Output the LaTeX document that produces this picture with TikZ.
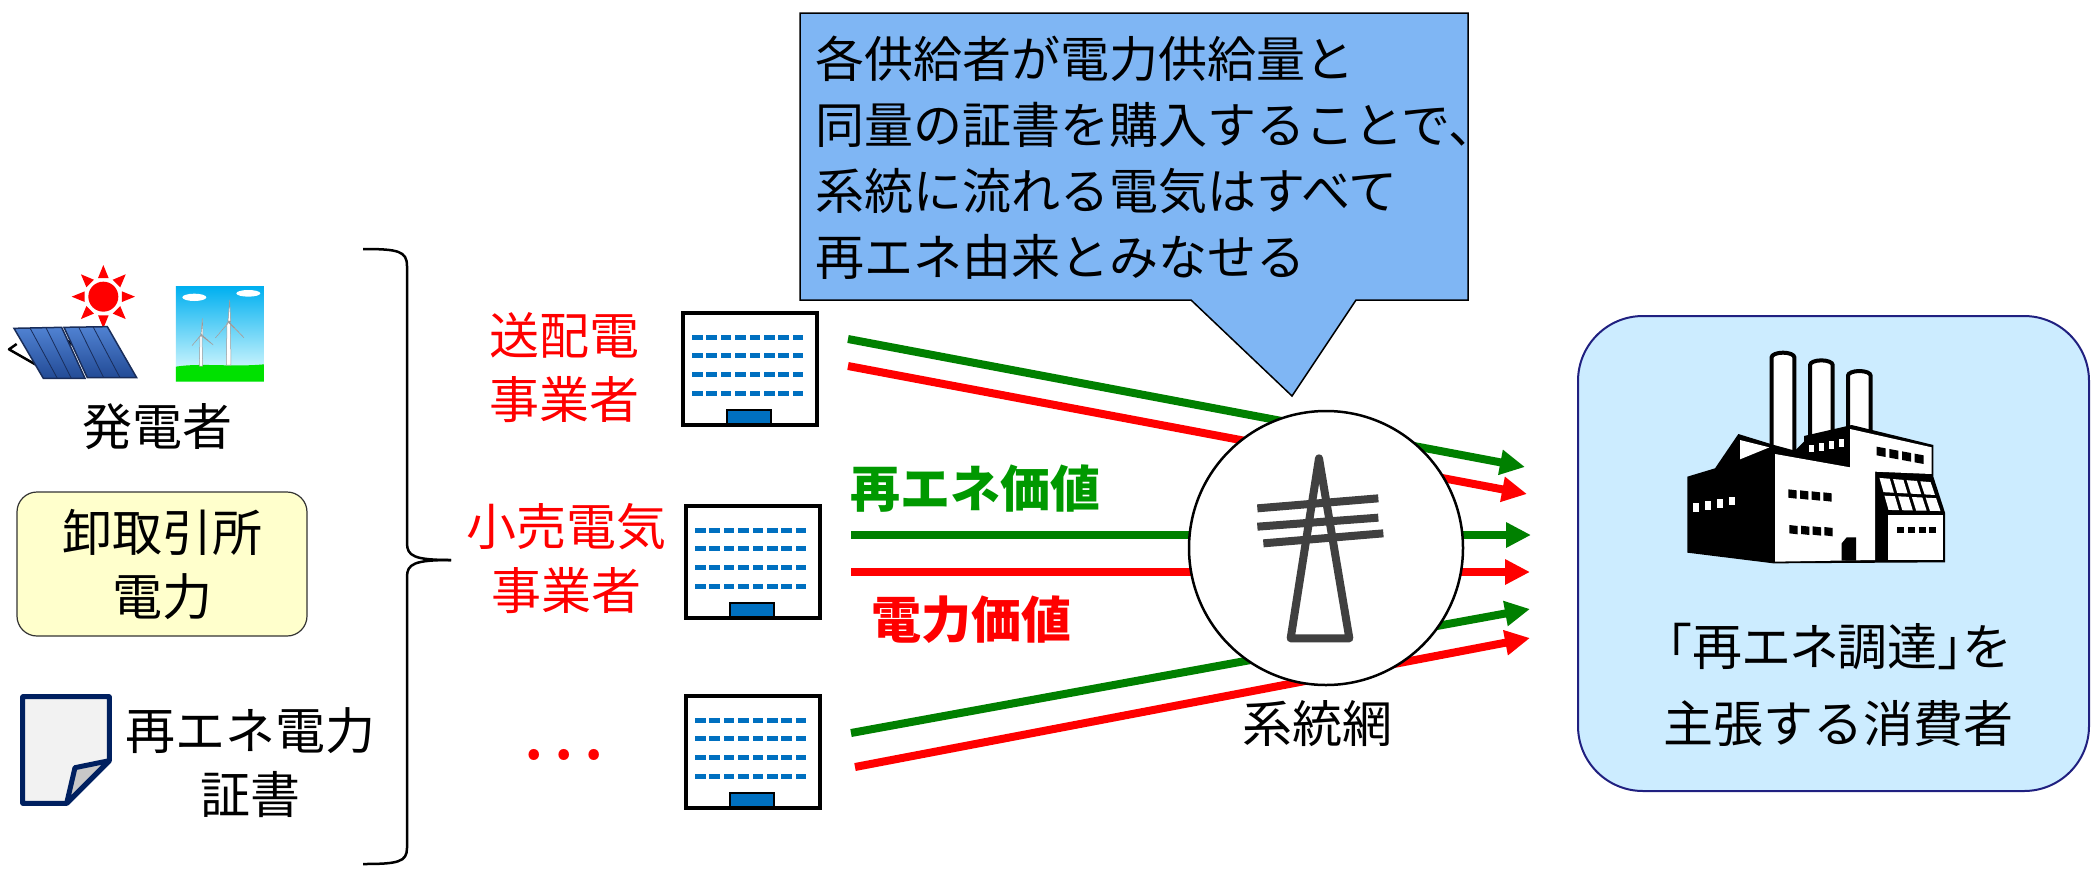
\documentclass[tikz,border=0pt]{standalone}
\usepackage{fontspec}
\setmainfont{Noto Sans CJK JP}
\newfontfamily\jpprop{Noto Sans CJK JP}[RawFeature=+palt]
\usetikzlibrary{arrows.meta,calc}

\definecolor{calloutBlue}{RGB}{127,182,244}
\definecolor{lineGreen}{RGB}{0,128,0}
\definecolor{lineRed}{RGB}{255,0,0}
\definecolor{textGreen}{RGB}{0,153,0}
\definecolor{winBlue}{RGB}{0,112,192}
\definecolor{boxYellow}{RGB}{255,255,204}
\definecolor{boxBlue}{RGB}{204,236,255}
\definecolor{boxBorder}{RGB}{32,32,128}
\definecolor{certNavy}{RGB}{0,32,96}
\definecolor{certFill}{RGB}{242,242,242}
\definecolor{foldGray}{RGB}{200,200,200}
\definecolor{towerGray}{RGB}{64,64,64}
\definecolor{panelTop}{RGB}{80,130,210}
\definecolor{panelBot}{RGB}{35,75,150}
\definecolor{panelEdge}{RGB}{25,45,90}
\definecolor{skyTop}{RGB}{0,176,240}
\definecolor{skyMid}{RGB}{190,240,255}
\definecolor{skyBot}{RGB}{235,255,255}
\definecolor{grass}{RGB}{0,225,0}

\tikzset{
  jp/.style={font=\fontsize{50pt}{64pt}\selectfont, inner sep=0pt, align=center},
  jpbold/.style={font=\fontsize{50pt}{64pt}\selectfont\bfseries, inner sep=0pt},
  bldg/.style={draw, line width=3.5pt, fill=white, minimum width=134pt,
    minimum height=112pt, inner sep=0pt, anchor=north west},
  flowG/.style={draw=lineGreen, line width=8pt, -{Triangle[length=25pt,width=24pt]}},
  flowR/.style={draw=lineRed, line width=8pt, -{Triangle[length=25pt,width=24pt]}},
  office/.pic={
    \foreach \r in {26,44,63,82}
      \foreach \c in {0,...,7}
        \fill[winBlue] ({11+\c*14.4},{\r-2.5}) rectangle ++(10.5,5);
    \draw[line width=2.5pt, fill=winBlue] (46,112) -- (46,99) -- (90,99) -- (90,112);
  },
  declare function={tileX(\u,\v)=652+30*\v+\u*(163+3*\v);
                    tileY(\u,\v)=438+107*\v+\u*(14-11*\v);}
}

\begin{document}
\begin{tikzpicture}[x=1pt,y=-1pt]
\useasboundingbox (0,0) rectangle (2091,868);
\fill[white] (0,0) rectangle (2091,868);

% ---------- speech bubble ----------
\draw[fill=calloutBlue, line width=1.5pt, line join=miter]
  (800,13) -- (1468,13) -- (1468,300) -- (1356,300) -- (1292,396)
  -- (1191,300) -- (800,300) -- cycle;
\node[jp, align=left, anchor=west, font=\fontsize{49pt}{66pt}\selectfont]
  (note) at (815,158)
  {各供給者が電力供給量と\\同量の証書を購入することで、\\系統に流れる電気はすべて\\再エネ由来とみなせる};

% ---------- generators: solar panels and sun ----------
\begin{scope}[shift={(0,250)}, scale=1/3]
  \draw[black, line width=2.5pt, line join=round] (50,282) -- (27,298) -- (118,350);
  \draw[black, line width=2.5pt] (196,268) -- (218,284);
  \foreach \a in {0,45,...,315}
    \fill[red] ([shift={(\a:95)}]310,140) -- ([shift={(\a+16:58)}]310,140)
      -- ([shift={(\a-16:58)}]310,140) -- cycle;
  \fill[red] (310,140) circle (45);
  \path[draw=panelEdge, line width=1.5pt, top color=panelTop, bottom color=panelBot]
    (42,235) -- (185,232) -- (255,385) -- (130,385) -- cycle;
  \draw[panelEdge, line width=0.8pt] (90,234) -- (172,385) (138,233) -- (214,385);
  \path[draw=panelEdge, line width=1.5pt, top color=panelTop, bottom color=panelBot]
    (192,232) -- (322,230) -- (410,383) -- (262,383) -- cycle;
  \draw[panelEdge, line width=0.8pt] (236,231) -- (311,383) (279,230) -- (360,383);
  % wind farm picture
  \shade[top color=skyTop, middle color=skyMid, bottom color=skyBot]
    (528,110) rectangle (792,395);
  \fill[white] (583,142) ellipse [x radius=36, y radius=11];
  \fill[white] (745,130) ellipse [x radius=36, y radius=10];
  \fill[grass] (528,350) .. controls (600,338) and (700,352) .. (792,343)
    -- (792,395) -- (528,395) -- cycle;
  \begin{scope}[draw=gray!80, fill=white, line width=0.5pt]
    \filldraw (600,258) -- (606,258) -- (608,348) -- (598,348) -- cycle;
    \filldraw (603,255) -- (607,205) -- (609,255) -- cycle;
    \filldraw (603,252) -- (640,285) -- (605,258) -- cycle;
    \filldraw (605,252) -- (576,287) -- (601,258) -- cycle;
    \filldraw (681,218) -- (691,218) -- (693,345) -- (679,345) -- cycle;
    \filldraw (684,215) -- (689,150) -- (692,215) -- cycle;
    \filldraw (684,212) -- (732,263) -- (688,220) -- cycle;
    \filldraw (690,212) -- (646,264) -- (684,220) -- cycle;
  \end{scope}
\end{scope}
\node[jp] (gen) at (157,427) {発電者};

% ---------- exchange power ----------
\node[jp, draw=black!80, line width=1.2pt, fill=boxYellow, rounded corners=20pt,
  minimum width=290pt, minimum height=144pt] (jepx) at (162,564) {卸取引所\\電力};

% ---------- certificate ----------
\begin{scope}[shift={(0,470)}, scale=1/3]
  \draw[line width=5pt, draw=certNavy, fill=certFill, line join=round]
    (68,680) -- (328,680) -- (328,872) -- (200,1000) -- (68,1000) -- cycle;
  \draw[line width=5pt, draw=certNavy, fill=foldGray, line join=round]
    (328,872) -- (225,893) -- (200,1000) -- cycle;
\end{scope}
\node[jp] (cert) at (250,763) {再エネ電力\\証書};

% ---------- brace ----------
\draw[line width=2.5pt] (363,249) .. controls (398,249) and (407,251) .. (407,266)
  -- (407,543) .. controls (407,556) and (414,560) .. (451,560);
\draw[line width=2.5pt] (451,560) .. controls (414,560) and (407,564) .. (407,577)
  -- (407,848) .. controls (407,862) and (398,864) .. (363,864);

% ---------- suppliers ----------
\node[jp, text=lineRed] (tdso) at (564,368) {送配電\\事業者};
\node[jp, text=lineRed] (retail) at (566,559) {小売電気\\事業者};
\node[text=lineRed, inner sep=0pt, font=\fontsize{80pt}{80pt}\selectfont] (more) at (563,755) {…};

\node[bldg] (b1) at (681,311) {};
\pic at (b1.north west) {office};
\node[bldg] (b2) at (684,504) {};
\pic at (b2.north west) {office};
\node[bldg] (b3) at (684,694) {};
\pic at (b3.north west) {office};

% ---------- value flows ----------
\coordinate (g1s) at (848,339);  \coordinate (g1e) at (1525,467);
\coordinate (r1s) at (848,366);  \coordinate (r1e) at (1527,494);
\coordinate (g2s) at (851,535);  \coordinate (g2e) at (1531,535);
\coordinate (r2s) at (851,572);  \coordinate (r2e) at (1530,572);
\coordinate (g3s) at (851,733);  \coordinate (g3e) at (1530,609);
\coordinate (r3s) at (855,767);  \coordinate (r3e) at (1530,638);
\draw[flowG] (g1s) -- (g1e);
\draw[flowR] (r1s) -- (r1e);
\draw[flowG] (g2s) -- (g2e);
\draw[flowR] (r2s) -- (r2e);
\draw[flowG] (g3s) -- (g3e);
\draw[flowR] (r3s) -- (r3e);

\node[jpbold, text=textGreen] (renew) at (975,489) {再エネ価値};
\node[jpbold, text=lineRed] (power) at (971,620) {電力価値};

% ---------- grid ----------
\node[circle, draw, line width=2.5pt, fill=white, minimum size=274pt, inner sep=0pt]
  (grid) at (1326,548) {};
\begin{scope}[shift={(1170,390)}, scale=1/3]
  \draw[towerGray, line width=8pt, line join=round] (447,205) -- (362,745) -- (538,745) -- cycle;
  \draw[towerGray, line width=8pt] (262,355) -- (625,325) (262,410) -- (625,383) (280,460) -- (640,430);
\end{scope}
\node[jp] (gridlbl) at (1317,724) {系統網};

% ---------- consumer ----------
\node[draw=boxBorder, line width=2pt, fill=boxBlue, rounded corners=65pt,
  minimum width=511pt, minimum height=475pt, inner sep=0pt] (consumer) at (1833.5,553.5) {};
\node[jp, font=\fontsize{50pt}{77pt}\selectfont] (claim) at (1838,685)
  {{\jpprop「再エネ調達」を}\\主張する消費者};

% factory
\begin{scope}[shift={(1660,330)}, scale=1/3]
  \foreach \cx/\ct/\cb in {335/82/380, 450/105/340, 564/137/320}
    \draw[line width=4pt, fill=white]
      (\cx,\cb) -- (\cx,\ct) arc[start angle=180, end angle=360, x radius=34, y radius=14]
      -- ({\cx+68},\cb);
  \fill[black] (82,440) -- (165,415) -- (235,312) -- (342,345) -- (405,362) -- (432,335)
    -- (432,318) -- (575,285) -- (820,345) -- (820,440) -- (855,548) -- (855,697)
    -- (340,700) -- (82,668) -- cycle;
  \fill[white] (240,330) -- (328,352) -- (240,388) -- cycle;
  \fill[white] (345,372) -- (570,412) -- (570,297) -- (815,352) -- (815,432)
    -- (645,425) -- (645,690) -- (345,695) -- cycle;
  \fill[black] (545,692) -- (545,640) -- (560,622) -- (588,622) -- (588,692) -- cycle;
  \fill[white] (685,555) rectangle (850,690);
  % windows
  \foreach \wx/\wy in {385/478, 420/481, 455/484, 490/487, 388/585, 423/587, 458/589, 493/591}
    \fill[black] (\wx,\wy) -- ++(25,3) -- ++(0,25) -- ++(-25,-3) -- cycle;
  \foreach \wx/\wy in {650/350, 688/357, 726/364, 764/371}
    \fill[black] (\wx,\wy) -- ++(27,5) -- ++(0,26) -- ++(-27,-5) -- cycle;
  \foreach \wx in {712,745,778,808}
    \fill[black] (\wx,592) rectangle ++(20,18);
  \foreach \wx/\wy in {100/520, 135/514, 170/508, 207/500}
    \fill[white] (\wx,\wy) rectangle ++(18,25);
  \foreach \wx/\wy in {447/345, 477/340, 507/334, 537/328}
    \fill[white] (\wx,\wy) rectangle ++(14,22);
  % glazed roof
  \foreach \i in {0,...,3}
    \foreach \j in {0,1}{
      \pgfmathsetmacro\ua{\i/4+0.03}
      \pgfmathsetmacro\ub{(\i+1)/4-0.03}
      \pgfmathsetmacro\va{\j/2+0.05}
      \pgfmathsetmacro\vb{(\j+1)/2-0.05}
      \fill[white] ({tileX(\ua,\va)},{tileY(\ua,\va)}) -- ({tileX(\ub,\va)},{tileY(\ub,\va)})
        -- ({tileX(\ub,\vb)},{tileY(\ub,\vb)}) -- ({tileX(\ua,\vb)},{tileY(\ua,\vb)}) -- cycle;
    }
\end{scope}
\end{tikzpicture}
\end{document}
